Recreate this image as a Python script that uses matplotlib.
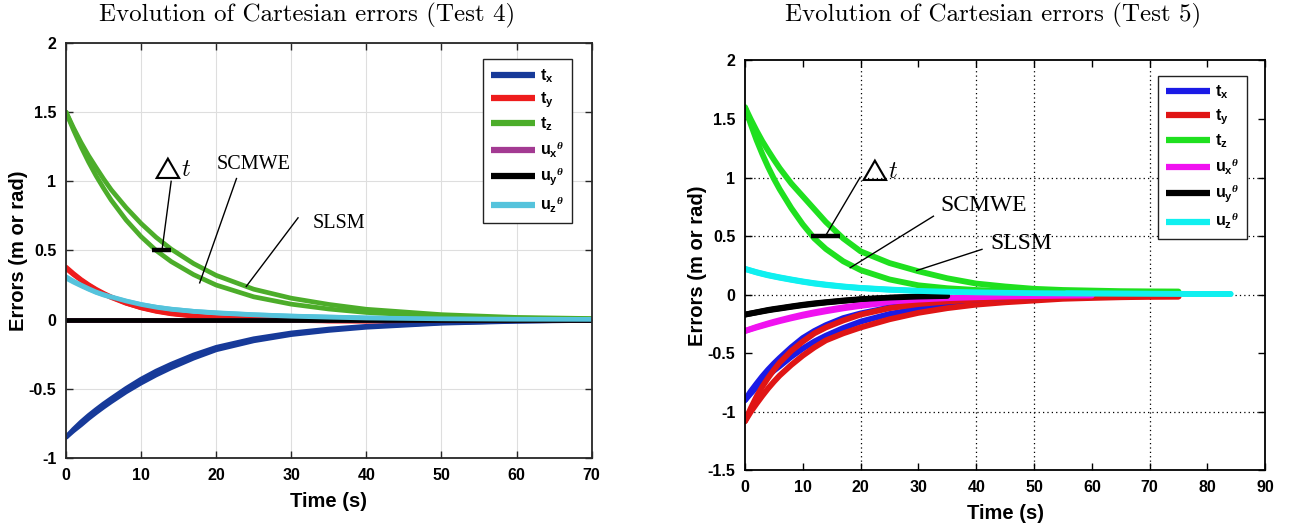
import matplotlib.pyplot as plt

plt.rcParams['font.family'] = 'Liberation Sans'
plt.rcParams['font.weight'] = 'bold'
plt.rcParams['axes.unicode_minus'] = False
plt.rcParams['mathtext.fontset'] = 'custom'
plt.rcParams['mathtext.rm'] = 'Liberation Sans'
plt.rcParams['mathtext.bf'] = 'Liberation Sans:bold'
plt.rcParams['mathtext.it'] = 'Liberation Serif:italic'

# ---------------- Test 4 ----------------
t4 = [0, 1, 2, 3, 4, 5, 6, 8, 10, 12, 14, 17, 20, 25, 30, 35, 40, 50, 60, 70]

tx4_scmwe = [-0.85, -0.792, -0.74, -0.693, -0.65, -0.609, -0.571, -0.497, -0.43, -0.372, -0.322, -0.255, -0.2, -0.138, -0.096, -0.068, -0.048, -0.022, -0.010, -0.004]
tx4_slsm = [-0.85, -0.803, -0.76, -0.714, -0.672, -0.632, -0.594, -0.522, -0.458, -0.4, -0.348, -0.278, -0.218, -0.153, -0.108, -0.078, -0.055, -0.026, -0.012, -0.005]
ty4_scmwe = [0.38, 0.333, 0.29, 0.253, 0.22, 0.191, 0.165, 0.12, 0.085, 0.06, 0.042, 0.025, 0.013, 0.003, -0.005, -0.010, -0.010, -0.005, -0.002, 0.0]
ty4_slsm = [0.37, 0.325, 0.285, 0.248, 0.215, 0.186, 0.16, 0.118, 0.087, 0.063, 0.045, 0.028, 0.016, 0.005, -0.003, -0.008, -0.010, -0.006, -0.002, 0.0]
tz4_scmwe = [1.50, 1.37, 1.25, 1.14, 1.04, 0.95, 0.865, 0.72, 0.60, 0.50, 0.42, 0.325, 0.25, 0.165, 0.112, 0.077, 0.052, 0.024, 0.011, 0.005]
tz4_slsm = [1.50, 1.385, 1.28, 1.185, 1.10, 1.017, 0.94, 0.81, 0.695, 0.595, 0.51, 0.405, 0.32, 0.22, 0.155, 0.11, 0.075, 0.036, 0.016, 0.008]
ux4_scmwe = [-0.006, -0.006, -0.006, -0.006, -0.006, -0.006, -0.006, -0.006, -0.006, -0.006,
             -0.006, -0.006, -0.006, -0.006, -0.006, -0.006, -0.006, -0.006, -0.006, -0.006]
ux4_slsm = ux4_scmwe
uy4_scmwe = [0.0, 0.0, 0.0, 0.0, 0.0, 0.0, 0.0, 0.0, 0.0, 0.0,
             0.0, 0.0, 0.0, 0.0, 0.0, 0.0, 0.0, 0.0, 0.0, 0.0]
uy4_slsm = uy4_scmwe
uz4_scmwe = [0.31, 0.278, 0.25, 0.224, 0.20, 0.181, 0.165, 0.135, 0.11, 0.09, 0.075, 0.06, 0.048, 0.035, 0.025, 0.018, 0.012, 0.006, 0.003, 0.002]
uz4_slsm = [0.30, 0.271, 0.245, 0.22, 0.197, 0.178, 0.162, 0.133, 0.108, 0.09, 0.076, 0.06, 0.05, 0.036, 0.026, 0.019, 0.013, 0.007, 0.003, 0.002]

# ---------------- Test 5 ----------------
# runs stop at different times, so each series only covers the start of t5
t5 = [0, 1, 2, 3, 4, 5, 6, 8, 10, 12, 14, 17, 20, 25, 30, 35, 40, 45, 50, 55, 60, 65, 70, 75, 80, 84]

tx5_scmwe = [-0.90, -0.825, -0.76, -0.697, -0.64, -0.588, -0.54, -0.45, -0.37, -0.31, -0.26, -0.20, -0.16, -0.11, -0.075, -0.055, -0.04, -0.03, -0.022, -0.017, -0.013, -0.010]
tx5_slsm = [-0.90, -0.843, -0.79, -0.738, -0.69, -0.648, -0.61, -0.53, -0.46, -0.40, -0.35, -0.285, -0.23, -0.165, -0.12, -0.09, -0.065, -0.048, -0.035, -0.027, -0.021, -0.017]
ty5_scmwe = [-1.08, -0.97, -0.87, -0.785, -0.71, -0.642, -0.58, -0.48, -0.40, -0.33, -0.28, -0.22, -0.17, -0.115, -0.08, -0.058, -0.043, -0.033, -0.026, -0.021, -0.018, -0.016, -0.015, -0.015]
ty5_slsm = [-1.08, -1.0, -0.93, -0.863, -0.80, -0.743, -0.69, -0.60, -0.52, -0.45, -0.39, -0.33, -0.28, -0.21, -0.155, -0.115, -0.085, -0.065, -0.05, -0.035, -0.028, -0.022, -0.018, -0.016]
tz5_scmwe = [1.60, 1.455, 1.32, 1.20, 1.09, 0.99, 0.90, 0.74, 0.60, 0.48, 0.39, 0.285, 0.21, 0.13, 0.08, 0.055, 0.04, 0.032, 0.027, 0.025]
tz5_slsm = [1.60, 1.497, 1.40, 1.31, 1.23, 1.153, 1.08, 0.95, 0.84, 0.73, 0.62, 0.48, 0.37, 0.27, 0.20, 0.14, 0.095, 0.07, 0.05, 0.04, 0.035, 0.03, 0.028, 0.027]
ux5_scmwe = [-0.31, -0.292, -0.275, -0.26, -0.245, -0.231, -0.218, -0.193, -0.17, -0.15, -0.132, -0.108, -0.088, -0.06, -0.042, -0.03, -0.022, -0.016, -0.012, -0.009, -0.007]
ux5_slsm = [-0.31, -0.295, -0.28, -0.266, -0.252, -0.239, -0.226, -0.202, -0.18, -0.16, -0.142, -0.117, -0.096, -0.066, -0.046, -0.033, -0.024, -0.018, -0.013, -0.01, -0.008]
uy5_scmwe = [-0.17, -0.16, -0.15, -0.14, -0.13, -0.122, -0.115, -0.10, -0.086, -0.074, -0.064, -0.05, -0.038, -0.025, -0.016, -0.011]
uy5_slsm = [-0.17, -0.161, -0.152, -0.143, -0.134, -0.126, -0.119, -0.104, -0.09, -0.078, -0.067, -0.053, -0.041, -0.027, -0.018, -0.012]
uz5_scmwe = [0.22, 0.205, 0.19, 0.177, 0.165, 0.155, 0.145, 0.127, 0.11, 0.095, 0.083, 0.068, 0.056, 0.042, 0.032, 0.025, 0.02, 0.016, 0.013, 0.011, 0.009, 0.008, 0.007, 0.006, 0.006, 0.006]
uz5_slsm = [0.22, 0.206, 0.192, 0.18, 0.168, 0.158, 0.148, 0.13, 0.113, 0.098, 0.086, 0.07, 0.058, 0.044, 0.033, 0.026, 0.021, 0.017, 0.014, 0.012, 0.01, 0.009, 0.008, 0.007, 0.006, 0.006]

labels = [r'$\mathbf{t}_\mathbf{x}$', r'$\mathbf{t}_\mathbf{y}$', r'$\mathbf{t}_\mathbf{z}$',
          r'$\mathbf{u}_\mathbf{x}{}^{\theta}$', r'$\mathbf{u}_\mathbf{y}{}^{\theta}$',
          r'$\mathbf{u}_\mathbf{z}{}^{\theta}$']
colors4 = ['#173a99', '#ee1c1c', '#4cad2a', '#a33a92', '#000000', '#55c3dc']
colors5 = ['#1a1ae6', '#e01515', '#1fe01f', '#f012f0', '#000000', '#10f0f0']

runs4 = [
    [tx4_slsm, ty4_slsm, tz4_slsm, ux4_slsm, uy4_slsm, uz4_slsm],
    [tx4_scmwe, ty4_scmwe, tz4_scmwe, ux4_scmwe, uy4_scmwe, uz4_scmwe],
]
runs5 = [
    [tx5_slsm, ty5_slsm, tz5_slsm, ux5_slsm, uy5_slsm, uz5_slsm],
    [tx5_scmwe, ty5_scmwe, tz5_scmwe, ux5_scmwe, uy5_scmwe, uz5_scmwe],
]

fig = plt.figure(figsize=(12.9, 5.26), dpi=100)
ax1 = fig.add_axes([0.0512, 0.1293, 0.4074, 0.789])
ax2 = fig.add_axes([0.5775, 0.1057, 0.4033, 0.7795])


def draw_runs(ax, t, runs, colors, lw):
    handles = []
    for k, run in enumerate(runs):
        for vals, c, lab in zip(run, colors, labels):
            ln, = ax.plot(t[:len(vals)], vals, color=c, lw=lw, solid_capstyle='round',
                          solid_joinstyle='round', label=lab if k == 1 else None)
            if k == 1:
                handles.append(ln)
    return handles


def style_axes(ax, xticks, yticks, ytick_labels, spine_color):
    ax.set_xticks(xticks)
    ax.set_xticklabels([str(v) for v in xticks])
    ax.set_yticks(yticks)
    ax.set_yticklabels(ytick_labels)
    ax.tick_params(direction='in', length=5, width=1, top=True, right=True,
                   labelsize=11.5, pad=7, color=spine_color)
    for s in ax.spines.values():
        s.set_color(spine_color)
        s.set_linewidth(1.3)
    ax.set_xlabel('Time (s)', fontsize=14.5, fontweight='bold')
    ax.set_ylabel('Errors (m or rad)', fontsize=14.5, fontweight='bold')
    ax.xaxis.set_label_coords(0.5, -0.106)
    ax.xaxis.label.set_va('center')
    ax.yaxis.set_label_coords(-0.091, 0.5)
    ax.yaxis.label.set_va('center')


def add_legend(ax, handles, x0, y1):
    leg = ax.legend(handles=handles, loc='upper left', bbox_to_anchor=(x0, y1),
                    fontsize=11.5, handlelength=2.75, handletextpad=0.3,
                    labelspacing=0.38, borderpad=0.5, borderaxespad=0,
                    fancybox=False, framealpha=1, edgecolor='#222222')
    leg.get_frame().set_linewidth(1.0)
    for ln in leg.get_lines():
        ln.set_linewidth(4.5)
        ln.set_solid_capstyle('butt')


# left panel
ax1.grid(True, color='#dedede', lw=0.8)
ax1.set_axisbelow(True)
h1 = draw_runs(ax1, t4, runs4, colors4, 3.4)
ax1.set_xlim(0, 70)
ax1.set_ylim(-1, 2)
style_axes(ax1, [0, 10, 20, 30, 40, 50, 60, 70],
           [-1, -0.5, 0, 0.5, 1, 1.5, 2],
           ['-1', '-0.5', '0', '0.5', '1', '1.5', '2'], '#262626')
add_legend(ax1, h1, 0.7935, 0.961)

ax1.plot([11.5, 14.0], [0.5, 0.5], color='k', lw=3.2, solid_capstyle='butt')
ax1.plot([12.8, 14.0], [0.51, 1.0], color='k', lw=1.0)
ax1.text(11.0, 1.04, r'$\triangle\!t$', fontsize=17.5, math_fontfamily='cm')
ax1.plot([17.8, 22.7], [0.266, 1.02], color='k', lw=1.0)
ax1.text(20.1, 1.09, 'SCMWE', family='Liberation Serif', fontweight='normal', fontsize=14.5)
ax1.plot([24.0, 30.9], [0.24, 0.736], color='k', lw=1.0)
ax1.text(32.8, 0.66, 'SLSM', family='Liberation Serif', fontweight='normal', fontsize=14.5)

# right panel
for gx in [20, 40, 50, 70]:
    ax2.axvline(gx, color='k', lw=0.9, ls=(0, (1, 2.5)), zorder=1)
for gy in [1, 0.5, 0, -1]:
    ax2.axhline(gy, color='k', lw=0.9, ls=(0, (1, 2.5)), zorder=1)
h2 = draw_runs(ax2, t5, runs5, colors5, 4.2)
ax2.set_xlim(0, 90)
ax2.set_ylim(-1.5, 2)
style_axes(ax2, [0, 10, 20, 30, 40, 50, 60, 70, 80, 90],
           [-1.5, -1, -0.5, 0, 0.5, 1, 1.5, 2],
           ['-1.5', '-1', '-0.5', '0', '0.5', '1', '1.5', '2'], '#000000')
ax2.yaxis.set_label_coords(-0.092, 0.5)
add_legend(ax2, h2, 0.794, 0.962)

ax2.plot([11.4, 16.4], [0.5, 0.5], color='k', lw=3.2, solid_capstyle='butt')
ax2.plot([14.1, 19.9], [0.516, 1.0], color='k', lw=1.0)
ax2.text(19.2, 1.0, r'$\triangle\!t$', fontsize=17.5, math_fontfamily='cm')
ax2.plot([18.2, 32.6], [0.23, 0.67], color='k', lw=1.0)
ax2.text(33.8, 0.716, 'SCMWE', family='Liberation Serif', fontweight='normal', fontsize=17)
ax2.plot([29.7, 41.0], [0.206, 0.387], color='k', lw=1.0)
ax2.text(42.5, 0.39, 'SLSM', family='Liberation Serif', fontweight='normal', fontsize=17)

fig.text(0.238, 0.9715, 'Evolution of Cartesian errors (Test 4)', family='cmr10',
         fontweight='normal', fontsize=18, ha='center', va='center')
fig.text(0.7695, 0.9715, 'Evolution of Cartesian errors (Test 5)', family='cmr10',
         fontweight='normal', fontsize=18, ha='center', va='center')

fig.savefig('out.png', dpi=100)
